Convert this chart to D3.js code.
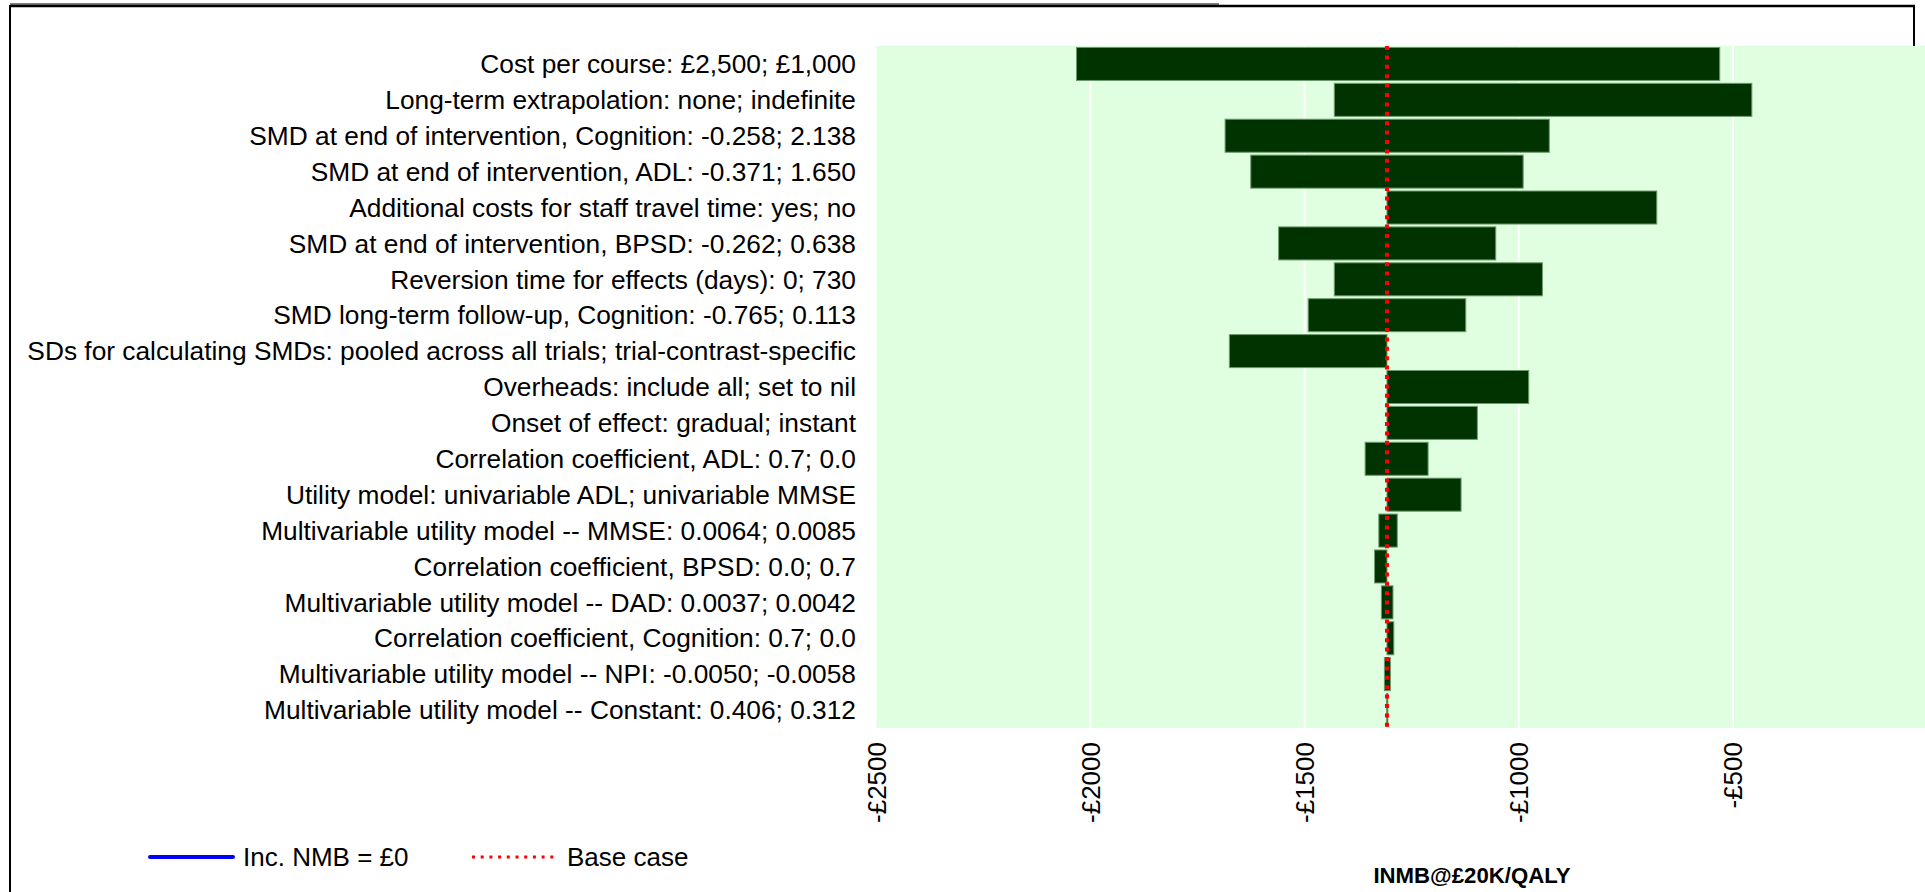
<!DOCTYPE html>
<html>
<head>
<meta charset="utf-8">
<script src="https://cdn.jsdelivr.net/npm/d3@7"></script>
<style>
  body { margin: 0; background: #fff; }
  svg { display: block; font-family: "Liberation Sans", Arial, sans-serif; }
</style>
</head>
<body>
<svg id="tornado"></svg>
<script>
// Parameters, in the order shown (largest swing first)
const parameters = [
  "Cost per course: £2,500; £1,000",
  "Long-term extrapolation: none; indefinite",
  "SMD at end of intervention, Cognition: -0.258; 2.138",
  "SMD at end of intervention, ADL: -0.371; 1.650",
  "Additional costs for staff travel time: yes; no",
  "SMD at end of intervention, BPSD: -0.262; 0.638",
  "Reversion time for effects (days): 0; 730",
  "SMD long-term follow-up, Cognition: -0.765; 0.113",
  "SDs for calculating SMDs: pooled across all trials; trial-contrast-specific",
  "Overheads: include all; set to nil",
  "Onset of effect: gradual; instant",
  "Correlation coefficient, ADL: 0.7; 0.0",
  "Utility model: univariable ADL; univariable MMSE",
  "Multivariable utility model -- MMSE: 0.0064; 0.0085",
  "Correlation coefficient, BPSD: 0.0; 0.7",
  "Multivariable utility model -- DAD: 0.0037; 0.0042",
  "Correlation coefficient, Cognition: 0.7; 0.0",
  "Multivariable utility model -- NPI: -0.0050; -0.0058",
  "Multivariable utility model -- Constant: 0.406; 0.312"
];

// INMB at each end of the range (left end, right end)
const inmbLow  = [-2033, -1431, -1686, -1626, -1308, -1561, -1431, -1492, -1676, -1308,
                  -1308, -1359, -1308, -1327, -1337, -1321, -1308, -1314, -1309];
const inmbHigh = [-531, -456, -929, -990, -678, -1054, -945, -1124, -1308, -977,
                  -1097, -1212, -1135, -1284, -1308, -1294, -1292, -1300, -1306];

const baseCase = -1308;
const xTicks = [-2500, -2000, -1500, -1000, -500];
const tickFormat = d => "-£" + Math.abs(d);

const W = 1925, H = 892;
const plot = { left: 876.5, top: 46, bottom: 728 };

const svg = d3.select("#tornado").attr("width", W).attr("height", H);

svg.append("rect").attr("width", W).attr("height", H).attr("fill", "#fff");

// frame lines
svg.append("line").attr("x1", 10).attr("x2", 1219).attr("y1", 4).attr("y2", 4)
  .attr("stroke", "#808080").attr("stroke-width", 2);
svg.append("line").attr("x1", 10).attr("x2", 1915).attr("y1", 6).attr("y2", 6)
  .attr("stroke", "#000").attr("stroke-width", 2.5);
svg.append("line").attr("x1", 10).attr("x2", 10).attr("y1", 5).attr("y2", H)
  .attr("stroke", "#000").attr("stroke-width", 2);
svg.append("line").attr("x1", 1914).attr("x2", 1914).attr("y1", 5).attr("y2", plot.top)
  .attr("stroke", "#000").attr("stroke-width", 2);

const x = d3.scaleLinear().domain([-2500, 0]).range([plot.left, plot.left + 2500 * 0.42825]);
const y = d3.scaleBand().domain(parameters).range([plot.top, plot.bottom]).paddingInner(0.08).paddingOuter(0.04);

// plot background
svg.append("rect")
  .attr("x", x(-2500)).attr("y", plot.top)
  .attr("width", x(0) - x(-2500)).attr("height", plot.bottom - plot.top)
  .attr("fill", "#e0ffe0");

// vertical gridlines
svg.append("g").selectAll("line")
  .data(xTicks.slice(1))
  .join("line")
  .attr("x1", d => x(d)).attr("x2", d => x(d))
  .attr("y1", plot.top).attr("y2", plot.bottom)
  .attr("stroke", "#fff").attr("stroke-width", 2);

// bars
svg.append("g").selectAll("rect")
  .data(parameters)
  .join("rect")
  .attr("x", (d, i) => x(Math.min(inmbLow[i], inmbHigh[i])))
  .attr("width", (d, i) => Math.max(1, Math.abs(x(inmbHigh[i]) - x(inmbLow[i]))))
  .attr("y", d => y(d))
  .attr("height", y.bandwidth())
  .attr("fill", "#003300")
  .attr("stroke", "#6a9a6a")
  .attr("stroke-width", 1);

// base case line
svg.append("line")
  .attr("x1", x(baseCase)).attr("x2", x(baseCase))
  .attr("y1", plot.top).attr("y2", plot.bottom)
  .attr("stroke", "#ff0000").attr("stroke-width", 4)
  .attr("stroke-dasharray", "4,5.4");

// parameter labels
svg.append("g").selectAll("text")
  .data(parameters)
  .join("text")
  .attr("x", 856)
  .attr("y", d => y(d) + y.bandwidth() / 2)
  .attr("dy", "0.35em")
  .attr("text-anchor", "end")
  .style("font-size", "26.3px")
  .text(d => d);

// x tick labels, rotated
svg.append("g").selectAll("text")
  .data(xTicks)
  .join("text")
  .attr("transform", d => `translate(${x(d) + 9},742) rotate(-90)`)
  .attr("text-anchor", "end")
  .style("font-size", "26px")
  .text(tickFormat);

// axis title
svg.append("text")
  .attr("x", 1472).attr("y", 883)
  .attr("text-anchor", "middle")
  .style("font-size", "22.2px")
  .style("font-weight", "bold")
  .text("INMB@£20K/QALY");

// legend
const legend = svg.append("g");
legend.append("line").attr("x1", 150).attr("x2", 233).attr("y1", 857).attr("y2", 857)
  .attr("stroke", "#0000ff").attr("stroke-width", 4).attr("stroke-linecap", "round");
legend.append("text").attr("x", 243).attr("y", 857).attr("dy", "0.35em")
  .style("font-size", "26px").text("Inc. NMB = £0");
legend.append("line").attr("x1", 472).attr("x2", 556).attr("y1", 857).attr("y2", 857)
  .attr("stroke", "#ff0000").attr("stroke-width", 3).attr("stroke-dasharray", "3,5.7");
legend.append("text").attr("x", 567).attr("y", 857).attr("dy", "0.35em")
  .style("font-size", "26px").text("Base case");
</script>
</body>
</html>
